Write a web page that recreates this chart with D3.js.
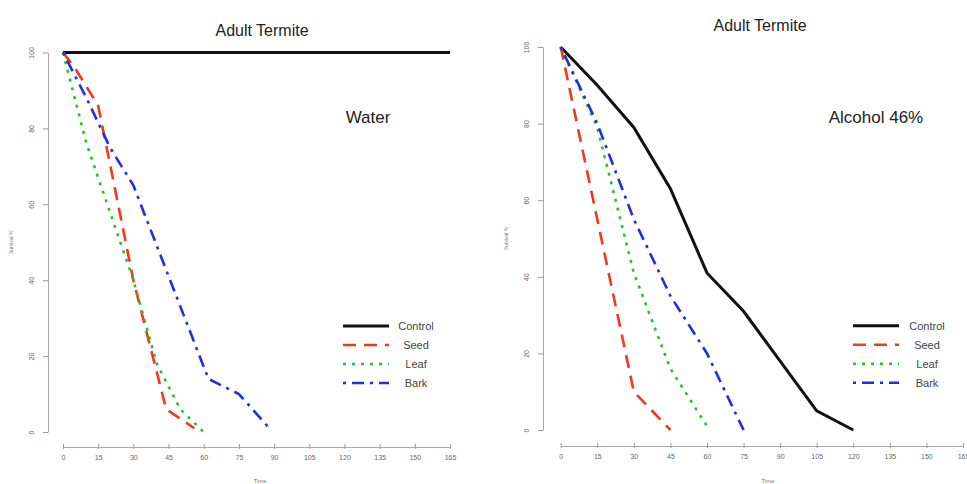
<!DOCTYPE html>
<html>
<head>
<meta charset="utf-8">
<script src="https://cdn.jsdelivr.net/npm/d3@7"></script>
<style>
  body { margin: 0; background: #fff; }
  svg { display: block; font-family: "Liberation Sans", Arial, sans-serif; }
</style>
</head>
<body>
<div id="chart"></div>
<script>
// data (minutes, survival %)
var seriesNames = [ 'Control', 'Seed', 'Leaf', 'Bark' ];
var xTicks = [ 0, 15, 30, 45, 60, 75, 90, 105, 120, 135, 150, 165 ];
var yTicks = [ 0, 20, 40, 60, 80, 100 ];

var waterControl = [ [0,100], [165,100] ];
var waterSeed    = [ [0,100], [5,96], [15,86], [30,40], [44,6], [56,1] ];
var waterLeaf    = [ [0,100], [10,76], [20,58], [30,40], [40,18], [50,6], [60,0] ];
var waterBark    = [ [0,100], [10,88], [20,75], [30,65], [62,14], [75,10], [88,1] ];

var alcControl = [ [0,100], [15,90], [30,79], [45,63], [60,41], [75,31], [90,18], [105,5], [120,0] ];
var alcSeed    = [ [0,100], [15,55], [30,10], [45,0] ];
var alcLeaf    = [ [0,100], [15,79], [30,41], [45,16], [60,1] ];
var alcBark    = [ [0,100], [15,80], [30,55], [45,35], [60,20], [75,0] ];

// styles
var styles = [
    { color: '#111111', dash: null,          width: 3   },
    { color: '#f2381f', dash: '13,8',        width: 2.6 },
    { color: '#22c42a', dash: '3,6',         width: 2.6 },
    { color: '#1f2ee6', dash: '3,6,12,6',    width: 2.6 }
];

var svg = d3.select( '#chart' )
            .append( 'svg' )
            .attr( 'width', 967 )
            .attr( 'height', 484 );

var panels = [
    {
        title: 'Adult Termite', titleX: 262, titleY: 36,
        label: 'Water', labelX: 368, labelY: 123,
        axisX: 48, axisY: 447,
        x0: 63, x1: 450, y0: 432, y1: 52.5,
        legendLineX: 343, legendTextX: 416, legendY: 326,
        xTitleX: 260,
        data: [ waterControl, waterSeed, waterLeaf, waterBark ]
    },
    {
        title: 'Adult Termite', titleX: 760, titleY: 31,
        label: 'Alcohol 46%', labelX: 876, labelY: 123,
        axisX: 543, axisY: 446,
        x0: 560.7, x1: 963, y0: 430, y1: 47,
        legendLineX: 853, legendTextX: 927, legendY: 325.7,
        xTitleX: 768,
        data: [ alcControl, alcSeed, alcLeaf, alcBark ]
    }
];

panels.forEach( function( p ) {
    var x = d3.scaleLinear().domain( [ 0, 165 ] ).range( [ p.x0, p.x1 ] );
    var y = d3.scaleLinear().domain( [ 0, 100 ] ).range( [ p.y0, p.y1 ] );
    var g = svg.append( 'g' );

    // y axis
    var yAxis = g.append( 'g' )
                 .attr( 'transform', 'translate(' + p.axisX + ',0)' )
                 .call( d3.axisLeft( y ).tickValues( yTicks ).tickSize( 5 ).tickSizeOuter( 0 ) );
    yAxis.select( '.domain' ).attr( 'stroke', '#aaa' );
    yAxis.selectAll( '.tick line' ).attr( 'stroke', '#999' );
    yAxis.selectAll( '.tick text' )
         .attr( 'x', null ).attr( 'dy', null )
         .attr( 'transform', 'translate(-14,0) rotate(-90)' )
         .attr( 'text-anchor', 'middle' )
         .attr( 'fill', '#666' )
         .style( 'font-size', '7px' );

    // x axis
    var xAxis = g.append( 'g' )
                 .attr( 'transform', 'translate(0,' + p.axisY + ')' )
                 .call( d3.axisBottom( x ).tickValues( xTicks ).tickSize( 4 ).tickSizeOuter( 0 ) );
    xAxis.select( '.domain' ).attr( 'stroke', '#aaa' );
    xAxis.selectAll( '.tick line' ).attr( 'stroke', '#999' ).attr( 'y1', -3 ).attr( 'y2', 2 );
    xAxis.selectAll( '.tick text' )
         .attr( 'y', 13 ).attr( 'dy', null )
         .attr( 'fill', '#666' )
         .style( 'font-size', '7px' );

    // axis titles
    g.append( 'text' )
     .attr( 'transform', 'translate(' + ( p.axisX - 35 ) + ',' + ( ( p.y0 + p.y1 ) / 2 ) + ') rotate(-90)' )
     .attr( 'text-anchor', 'middle' )
     .attr( 'fill', '#777' )
     .style( 'font-size', '5px' )
     .text( 'Survival %' );

    g.append( 'text' )
     .attr( 'x', p.xTitleX )
     .attr( 'y', 483 )
     .attr( 'text-anchor', 'middle' )
     .attr( 'fill', '#777' )
     .style( 'font-size', '6px' )
     .text( 'Time' );

    // lines
    var line = d3.line()
                 .x( function( d ) { return x( d[ 0 ] ); } )
                 .y( function( d ) { return y( d[ 1 ] ); } );

    p.data.forEach( function( d, i ) {
        var s = styles[ i ];
        g.append( 'path' )
         .datum( d )
         .attr( 'd', line )
         .attr( 'fill', 'none' )
         .attr( 'stroke', s.color )
         .attr( 'stroke-width', s.width )
         .attr( 'stroke-dasharray', s.dash );
    });

    // titles
    g.append( 'text' )
     .attr( 'x', p.titleX )
     .attr( 'y', p.titleY )
     .attr( 'text-anchor', 'middle' )
     .attr( 'fill', '#222' )
     .style( 'font-size', '16px' )
     .text( p.title );

    g.append( 'text' )
     .attr( 'x', p.labelX )
     .attr( 'y', p.labelY )
     .attr( 'text-anchor', 'middle' )
     .attr( 'fill', '#222' )
     .style( 'font-size', '17px' )
     .text( p.label );

    // legend
    seriesNames.forEach( function( name, i ) {
        var s = styles[ i ];
        var ly = p.legendY + i * 19;
        g.append( 'line' )
         .attr( 'x1', p.legendLineX )
         .attr( 'x2', p.legendLineX + 46 )
         .attr( 'y1', ly )
         .attr( 'y2', ly )
         .attr( 'stroke', s.color )
         .attr( 'stroke-width', s.width )
         .attr( 'stroke-dasharray', s.dash );
        g.append( 'text' )
         .attr( 'x', p.legendTextX )
         .attr( 'y', ly + 4 )
         .attr( 'text-anchor', 'middle' )
         .attr( 'fill', '#444' )
         .style( 'font-size', '11px' )
         .text( name );
    });
});
</script>
</body>
</html>
